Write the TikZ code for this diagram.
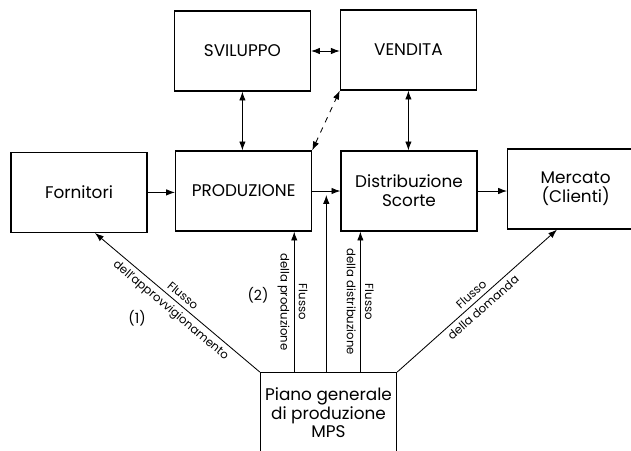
\documentclass[tikz,border=0pt]{standalone}
\usepackage{fontspec}
\setmainfont{Poppins}
\usetikzlibrary{arrows.meta, positioning}

\begin{document}
\begin{tikzpicture}[
    box/.style={draw, line width=0.9pt, minimum width=3.4cm, minimum height=2cm,
      align=center, font=\fontsize{12}{13.5}\selectfont},
    flow/.style={-{Latex[length=2.2mm, width=1.6mm]}, line width=0.6pt},
    both/.style={{Latex[length=2.2mm, width=1.6mm]}-{Latex[length=2.2mm, width=1.6mm]}, line width=0.6pt},
    lbl/.style={font=\fontsize{8.3}{10}\selectfont, inner sep=3pt}
  ]
  \useasboundingbox (0,0) rectangle (15.775,11.25);
  % blocchi
  \node[box] (svil) at (6.06,9.975) {SVILUPPO};
  \node[box] (vend) at (10.21,10.0) {VENDITA};
  \node[box] (forn) at (1.975,6.44) {Fornitori};
  \node[box] (prod) at (6.09,6.475) {PRODUZIONE};
  \node[box] (dist) at (10.225,6.475) {Distribuzione\\Scorte};
  \node[box, anchor=west] (merc) at (12.675,6.525) {Mercato\\(Clienti)};
  \node[box, anchor=north] (mps) at (8.2125,1.95) {Piano generale\\di produzione\\MPS};

  % collegamenti in alto
  \draw[both] (svil.east) -- (vend.west |- svil.east);
  \draw[both] (svil.south) -- (svil.south |- prod.north);
  \draw[both] (vend.south) -- (vend.south |- dist.north);
  \draw[both, dash pattern=on 4pt off 4pt] (prod.north east) -- (vend.south west);

  % flussi orizzontali
  \draw[flow] (forn.east) -- (forn.east -| prod.west);
  \draw[flow] (prod.east) -- coordinate[midway] (j) (prod.east -| dist.west);
  \draw[flow] (dist.east) -- (dist.east -| merc.west);

  % flussi dal piano MPS
  \coordinate (fa) at ([xshift=4mm]forn.south);
  \coordinate (pa) at ([xshift=-4.5mm]prod.south east);
  \coordinate (da) at ([xshift=5mm]dist.south west);
  \coordinate (ma) at ([xshift=12.5mm]merc.south west);
  \draw[flow] (mps.north west) -- (fa)
    node[midway, sloped, above, lbl] {Flusso}
    node[midway, sloped, below, lbl] {dell'approvvigionamento};
  \draw[flow] (mps.north -| pa) -- (pa)
    node[midway, rotate=-90, anchor=south, lbl] {Flusso}
    node[midway, rotate=-90, anchor=north, lbl] {della produzione};
  \draw[flow, shorten >=0.1cm] (mps.north -| j) -- (j);
  \draw[flow] (mps.north -| da) -- (da)
    node[midway, rotate=-90, anchor=south, lbl] {Flusso}
    node[midway, rotate=-90, anchor=north, lbl] {della distribuzione};
  \draw[flow] (mps.north east) -- (ma)
    node[midway, sloped, above, lbl] {Flusso}
    node[midway, sloped, below, lbl] {della domanda};

  \node[lbl, font=\fontsize{10}{12}\selectfont] (n1) at (3.425,3.3) {(1)};
  \node[lbl, font=\fontsize{10}{12}\selectfont] (n2) at (6.45,3.875) {(2)};
\end{tikzpicture}
\end{document}
